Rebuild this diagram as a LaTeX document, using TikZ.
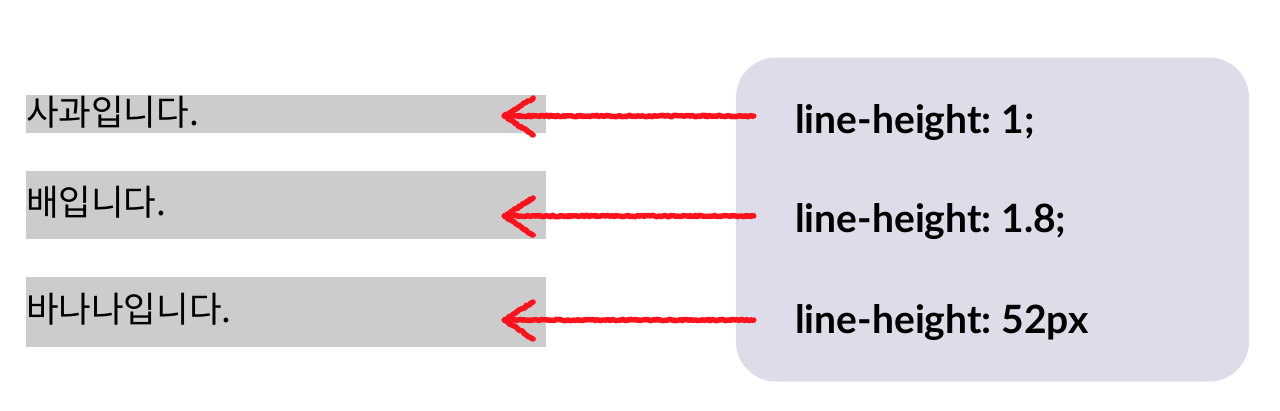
\documentclass[tikz,border=0pt]{standalone}
\usepackage{fontspec}
\usepackage{tikz}
\usetikzlibrary{positioning}
\usetikzlibrary{calc}
\usetikzlibrary{decorations.pathmorphing}
\newfontfamily\hangul{Noto Sans CJK KR}
\newfontfamily\cssfont{Lato}
\definecolor{bargray}{RGB}{204,204,204}
\definecolor{boxlilac}{RGB}{221,221,233}
\definecolor{penred}{RGB}{250,18,28}
\tikzset{bar/.style = {fill=bargray, inner sep=0, minimum width=520, minimum height=#1},
  hangultext/.style = {inner sep=0, anchor=west, font=\hangul\fontsize{35.5}{35.5}\selectfont},
  csstext/.style = {inner sep=0, anchor=base west, font=\cssfont\bfseries\fontsize{39}{39}\selectfont},
  crayon/.style = {draw=penred, line width=5.4pt, line cap=round, line join=round,
    decorate, decoration={random steps, segment length=1.4pt, amplitude=0.8pt}}}

\begin{document}
\begin{tikzpicture}[x=1pt, y=-1pt]
          \pgfmathsetseed{7}
          \useasboundingbox (0, 0) rectangle (1280, 410);
          \node [fill=boxlilac, rounded corners=40, minimum width=513, minimum height=324, inner sep=0] (cssbox) at (992.5, 219.5) {};

          \node [bar=38] (bar1) at (286, 114) {};
          \node [bar=68] (bar2) at (286, 205) {};
          \node [bar=70] (bar3) at (286, 312) {};
          \node [hangultext] (fruit1) at ([yshift=2pt]bar1.west) {사과입니다.};
          \node [hangultext] (fruit2) at ([yshift=3pt]bar2.west) {배입니다.};
          \node [hangultext] (fruit3) at ([yshift=3pt]bar3.west) {바나나입니다.};

          \node [csstext] (css1) at (795, 133) {line-height:\hspace{-3pt} 1;};
          \node [csstext] (css2) at (795, 232) {line-height:\hspace{-3pt} 1.8;};
          \node [csstext] (css3) at (795, 333) {line-height:\hspace{-3pt} 52px};

          % arrow tips sit inside the grey bars
          \coordinate (tip1) at ([xshift=-42pt]bar1.east |- 0, 116);
          \coordinate (tip2) at ([xshift=-42pt]bar2.east |- 0, 216);
          \coordinate (tip3) at ([xshift=-42pt]bar3.east |- 0, 320);

          \foreach \i in {1, 2, 3} {
            \draw [crayon] ([xshift=18pt]tip\i -| cssbox.west) -- (tip\i);
            \draw [crayon] ([shift={(29pt, 18pt)}]tip\i) -- (tip\i) -- ([shift={(29pt, -19pt)}]tip\i);
          }
        \end{tikzpicture}
\end{document}
